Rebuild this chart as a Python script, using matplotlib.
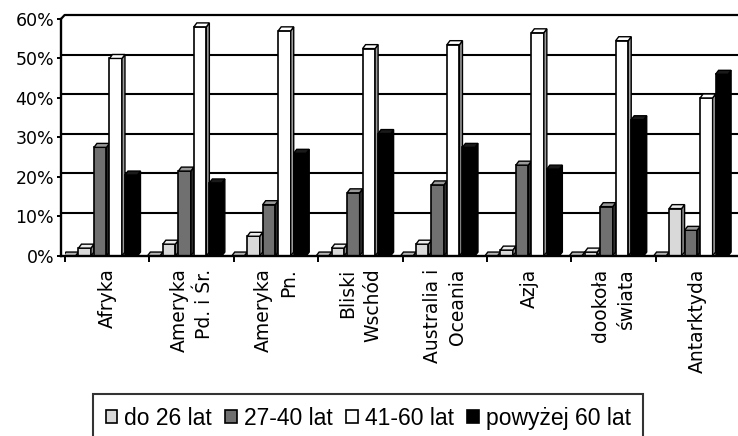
import matplotlib
matplotlib.use("Agg")
import matplotlib.pyplot as plt
from matplotlib.patches import Polygon
import numpy as np

# ---- data ----
categories = ["Afryka", "Ameryka\nPd. i Śr.", "Ameryka\nPn.", "Bliski\nWschód",
              "Australia i\nOceania", "Azja", "dookoła\nświata", "Antarktyda"]
series_names = ["do 26 lat", "27-40 lat", "41-60 lat", "powyżej 60 lat"]
unlabeled = [0, 0, 0, 0, 0, 0, 0, 0]
do_26 = [2, 3, 5, 2, 3, 1.5, 1, 12]
od_27_40 = [27.5, 21.5, 13, 16, 18, 23, 12.5, 6.5]
od_41_60 = [50, 58, 57, 52.5, 53.5, 56.5, 54.5, 40]
pow_60 = [20.5, 18.5, 26, 31, 27.5, 22, 34.5, 46]
y_ticks = [0, 10, 20, 30, 40, 50, 60]
y_tick_labels = ["0%", "10%", "20%", "30%", "40%", "50%", "60%"]

W, H = 738, 436
fig = plt.figure(figsize=(W / 100, H / 100), dpi=100)
px_left, px_right, px_bottom, px_top = 65, 740, 256, 15
ax = fig.add_axes([px_left / W, 1 - px_bottom / H,
                   (px_right - px_left) / W, (px_bottom - px_top) / H])
ax.set_xlim(-0.5, 7.5)
ax.set_ylim(0, 61)

unit = (px_right - px_left) / 8.0  # px per category
front_x = -0.5 - 4 / unit
pitch = 15.5 / unit
front_w = 12.5 / unit
dx = 3.0 / unit
dy = 1.0

# back-wall gridlines
for v in y_ticks[1:-1]:
    ax.plot([front_x, 7.5], [v + dy, v + dy], color="black", lw=1.5, zorder=1,
            clip_on=False, solid_capstyle="butt")
ax.plot([front_x, -0.5 + 3 / unit - 0.04, 7.6], [60, 61, 61], color="black",
        lw=1.6, zorder=1, clip_on=False)

x = np.arange(len(categories))
styles = [
    (unlabeled, "_nolegend_", "#c8c8c8", "#9a9a9a", "#b5b5b5"),
    (do_26, series_names[0], "#d9d9d9", "#8a8a8a", "#ececec"),
    (od_27_40, series_names[1], "#707070", "#2e2e2e", "#9a9a9a"),
    (od_41_60, series_names[2], "#ffffff", "#9c9c9c", "#ffffff"),
    (pow_60, series_names[3], "#000000", "#000000", "#1a1a1a"),
]
for j, (vals, name, face, side, top) in enumerate(styles):
    left = x - 0.524 + j * pitch
    bars = ax.bar(left, vals, width=front_w, align="edge", color=face,
                  edgecolor="black", linewidth=1.2, label=name, zorder=3 + j)
    for b in bars:
        x0 = b.get_x()
        w = b.get_width()
        v = b.get_height()
        side_poly = Polygon([(x0 + w, 0), (x0 + w + dx, dy), (x0 + w + dx, v + dy), (x0 + w, v)],
                            closed=True, facecolor=side, edgecolor="black", lw=1.0,
                            zorder=3 + j)
        top_poly = Polygon([(x0, v), (x0 + dx, v + dy), (x0 + w + dx, v + dy), (x0 + w, v)],
                           closed=True, facecolor=top, edgecolor="black", lw=1.0,
                           zorder=3 + j)
        ax.add_patch(side_poly)
        ax.add_patch(top_poly)

# spines
for s in ["top", "right"]:
    ax.spines[s].set_visible(False)
ax.spines["left"].set_position(("data", front_x))
ax.spines["left"].set_bounds(0, 60)
ax.spines["left"].set_linewidth(1.7)
ax.spines["bottom"].set_bounds(front_x, 7.5)
ax.spines["bottom"].set_linewidth(1.7)
ax.spines["bottom"].set_zorder(20)

ax.set_yticks(y_ticks)
ax.set_yticklabels(y_tick_labels, fontsize=12.5, family="DejaVu Sans")
ax.tick_params(axis="y", direction="out", length=3, width=1.4, pad=2)

ax.set_xticks(x)
ax.set_xticklabels(categories, rotation=90, fontsize=13.5, family="DejaVu Sans",
                   linespacing=1.4, multialignment="right", ha="center", va="top")
ax.tick_params(axis="x", which="major", length=0, pad=9)
ax.set_xticks(np.arange(0, 8) - 0.5, minor=True)
ax.tick_params(axis="x", which="minor", direction="out", length=4, width=1.4)

handles, labels = ax.get_legend_handles_labels()
leg = fig.legend(handles, labels, loc="upper left",
                 bbox_to_anchor=(93 / W, 1 - 394 / H), borderaxespad=0,
                 ncol=4, frameon=True, fancybox=False, handlelength=0.5,
                 handleheight=0.5, handletextpad=0.3, columnspacing=0.6,
                 borderpad=0.55, prop={"family": "Liberation Sans", "size": 16.5})
leg.get_frame().set_edgecolor("black")
leg.get_frame().set_linewidth(1.5)

fig.savefig("out.png", dpi=100)
